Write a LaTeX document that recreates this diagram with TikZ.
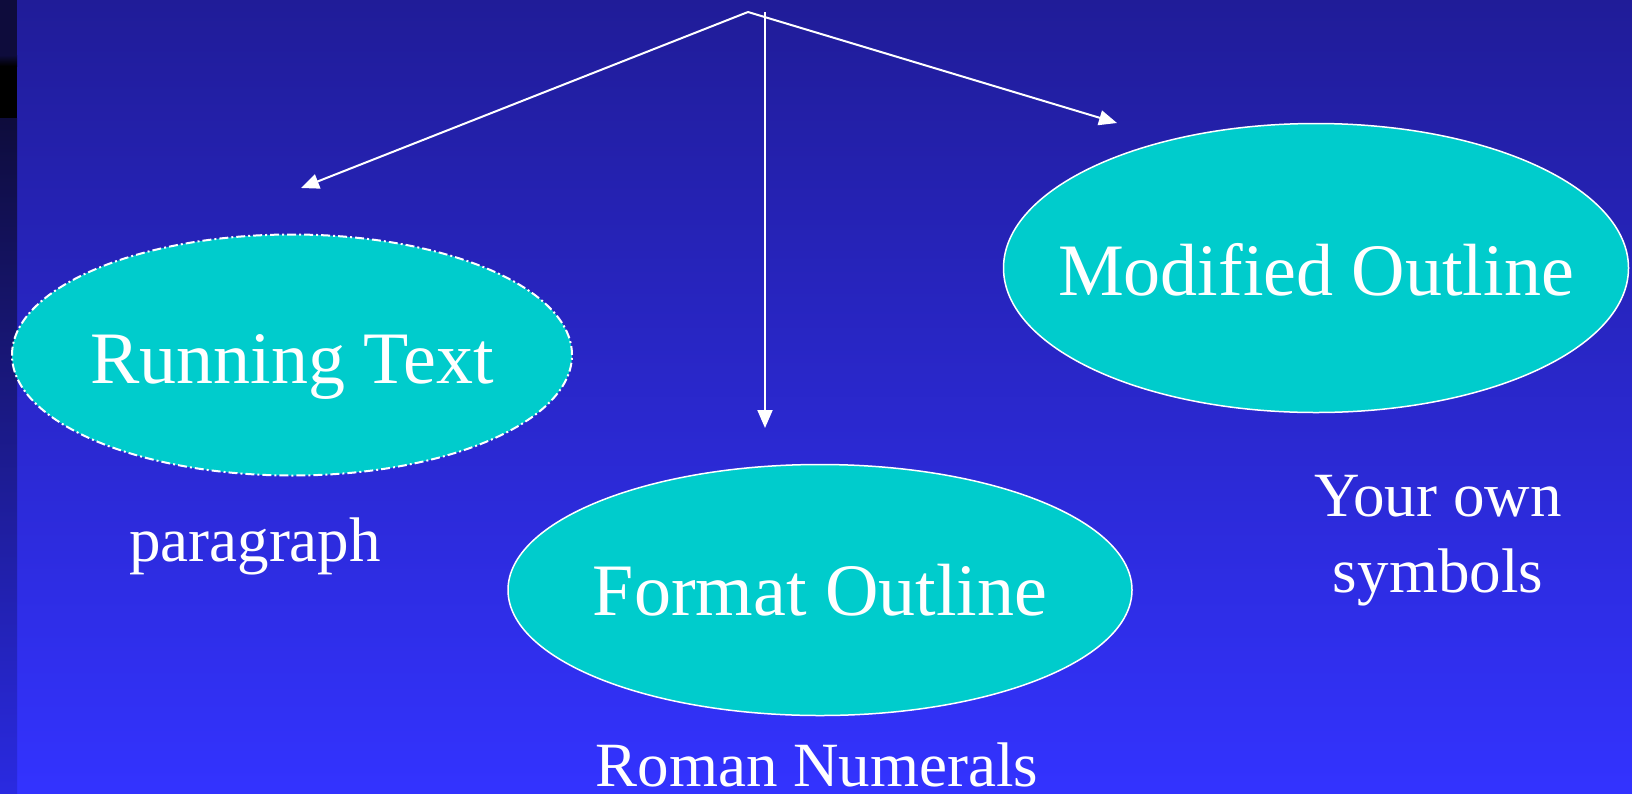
\documentclass[tikz,border=0pt]{standalone}
\usepackage{fontspec}
\setmainfont{Liberation Serif}
\usetikzlibrary{arrows, positioning, arrows.meta, shapes}

\definecolor{slidetop}{RGB}{32,28,152}
\definecolor{slidebottom}{RGB}{51,51,255}
\definecolor{striptop}{RGB}{14,12,60}
\definecolor{stripbottom}{RGB}{42,42,225}
\definecolor{bubble}{RGB}{0,204,204}

% text that sits inside a bubble, its baseline #1 below the centre
\newcommand{\bubbletext}[2]{\makebox[0pt]{\raisebox{-#1}{#2}}}

\tikzset{
    topic/.style={draw=white, line width=1.5pt, fill=bubble, ellipse, inner sep=0pt,
        text height=0pt, text depth=0pt, text=white, font=\fontsize{74}{80}\selectfont},
    note/.style={text=white, font=\fontsize{63}{76}\selectfont, align=center}
}

\begin{document}
\begin{tikzpicture}[x=1pt, y=-1pt]
    % Background
    \useasboundingbox (0,0) rectangle (1632,793);
    \shade[top color=slidetop, bottom color=slidebottom] (0,0) rectangle (1632,793);
    \fill[striptop] (0,0) rectangle (17,62);
    \shade[top color=striptop, bottom color=black] (0,55) rectangle (17,66);
    \fill[black] (0,66) rectangle (17,118);
    \shade[top color=striptop, bottom color=stripbottom] (0,118) rectangle (17,793);

    % Nodes
    \node[topic, line width=2pt, dash pattern=on 9pt off 3pt on 2pt off 3pt, minimum width=560pt, minimum height=241pt] (running) at (292,355) {\bubbletext{28pt}{Running Text}};
    \node[topic, minimum width=625pt, minimum height=289pt] (modified) at (1316,268) {\bubbletext{27pt}{Modified Outline}};
    \node[topic, minimum width=624pt, minimum height=251pt] (format) at (820,590) {\bubbletext{25pt}{Format Outline}};
    \node[note, anchor=base] (paragraph) at (255,561) {paragraph};
    \node[note, anchor=base, text depth=0pt, inner sep=1pt] (roman) at (817,786) {Roman Numerals};
    \node[note] (symbols) at (1438,541) {Your own\\symbols};

    \coordinate (apex) at (748,12);
    \coordinate (stem) at (765,12);
    \coordinate (left end) at (301,188);
    \coordinate (right end) at (1117,123);
    \coordinate (down end) at (765,428);

    % Connections
    \draw [white, line width=2pt, arrows = {-Triangle[length=18pt, width=15pt]}] (apex) -- (left end);
    \draw [white, line width=2pt, arrows = {-Triangle[length=18pt, width=15pt]}] (apex) -- (right end);
    \draw [white, line width=2pt, arrows = {-Triangle[length=18pt, width=15pt]}] (stem) -- (down end);
\end{tikzpicture}
\end{document}
